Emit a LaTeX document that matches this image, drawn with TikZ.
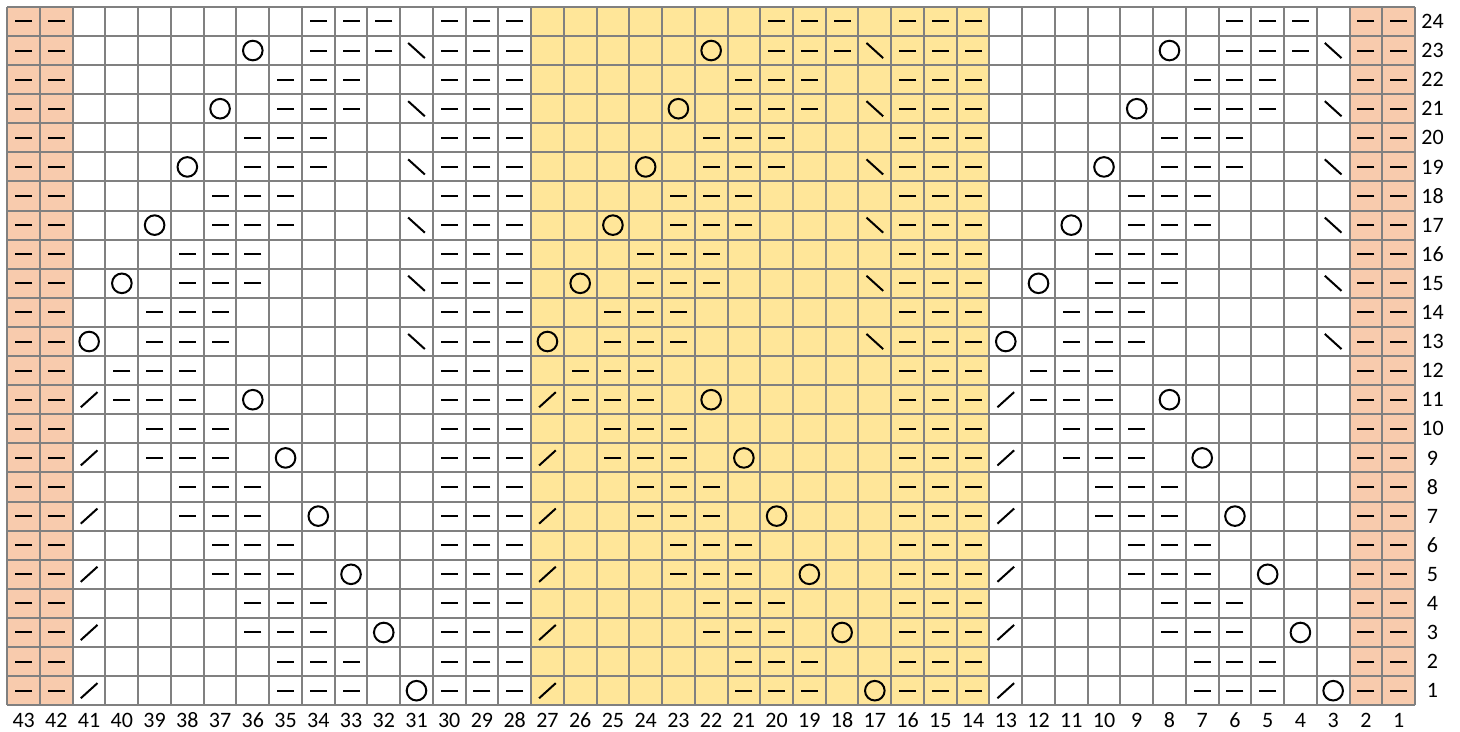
\documentclass[tikz,border=0pt]{standalone}
\usepackage{fontspec}
\setmainfont{Carlito}
\definecolor{edgepurl}{HTML}{F8CBAD}
\definecolor{midpanel}{HTML}{FFE699}
\definecolor{gridgray}{HTML}{808080}
\tikzset{
  gridline/.style={gridgray,line width=1pt},
  purlbar/.style={black,line width=1pt},
  yarnover/.style={black,line width=1pt},
  decline/.style={black,line width=1pt},
  collbl/.style={font=\fontsize{11}{13}\selectfont,inner sep=0pt},
  rowlbl/.style={font=\fontsize{11}{13}\selectfont,inner sep=0pt},
}
\newcommand{\purlat}[2]{\draw[purlbar] (#1-0.26,#2) -- (#1+0.26,#2);}
\newcommand{\yoat}[2]{\draw[yarnover] (#1,#2) circle[radius=4.9pt];}
\newcommand{\ktogat}[2]{\draw[decline] (#1+0.255,#2-0.26) -- (#1-0.255,#2+0.26);}
\newcommand{\sskat}[2]{\draw[decline] (#1+0.255,#2+0.26) -- (#1-0.255,#2-0.26);}

\begin{document}
\begin{tikzpicture}[x={(-16.37pt,0pt)},y={(0pt,14.55pt)}]
  \useasboundingbox (43.723,-0.4175) rectangle (-0.874,24.737);
  \fill[edgepurl] (43.5,0.5) rectangle (41.5,24.5);
  \fill[edgepurl] (2.5,0.5) rectangle (0.5,24.5);
  \fill[midpanel] (27.5,0.5) rectangle (13.5,24.5);
  \foreach \cn in {0,...,43} \draw[gridline] (\cn+0.5,0.5) -- (\cn+0.5,24.5);
  \foreach \rw in {0,...,24} \draw[gridline] (0.5,\rw+0.5) -- (43.5,\rw+0.5);
  % selvedge
  \foreach \rw in {1,...,24}{
    \foreach \cn in {43,42,2,1} {\purlat{\cn}{\rw}}
  }
  % panels of 14, the last one stops at 3
  \foreach \st in {41,27,13}{
    \foreach \rw/\off in {1/6,3/5,5/4,7/3,9/2,11/1,13/2,15/3,17/4,19/5,21/6,23/7}{
      \foreach \kk in {0,1,2}{
        \pgfmathtruncatemacro{\cc}{\st-\off-\kk}
        \purlat{\cc}{\rw} \purlat{\cc}{\rw+1}
      }
    }
    \foreach \rw/\off in {1/10,3/9,5/8,7/7,9/6,11/5,13/0,15/1,17/2,19/3,21/4,23/5}{
      \pgfmathtruncatemacro{\cc}{\st-\off}
      \yoat{\cc}{\rw}
    }
    \foreach \rw in {1,3,...,11} {\ktogat{\st}{\rw}}
    \pgfmathtruncatemacro{\cc}{\st-10}
    \foreach \rw in {13,15,...,23} {\sskat{\cc}{\rw}}
  }
  \foreach \st in {41,27}{
    \foreach \rw in {1,...,24}{
      \foreach \kk in {11,12,13} {\purlat{\st-\kk}{\rw}}
    }
  }
  \foreach \cn in {1,...,43} \node[collbl] (col\cn) at (\cn,-0.022) {\cn};
  \foreach \rw in {1,...,24} \node[rowlbl] (row\rw) at (-0.035,\rw) {\rw};
\end{tikzpicture}
\end{document}
